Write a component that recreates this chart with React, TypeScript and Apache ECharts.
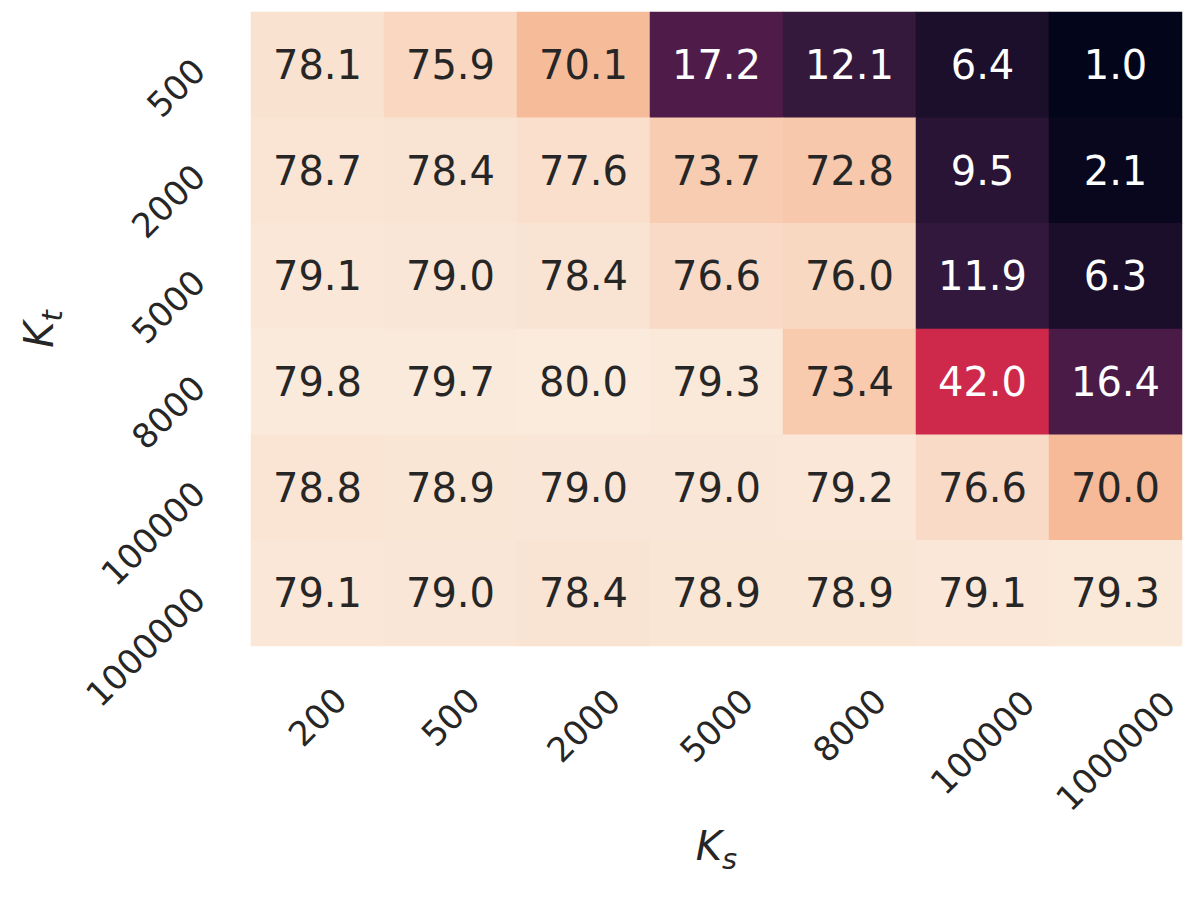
import React, { useEffect, useRef } from "react";
import * as echarts from "echarts";

const ksLabels = ["200", "500", "2000", "5000", "8000", "100000", "1000000"];
const ktLabels = ["500", "2000", "5000", "8000", "100000", "1000000"];

const row500 = [78.1, 75.9, 70.1, 17.2, 12.1, 6.4, 1.0];
const row2000 = [78.7, 78.4, 77.6, 73.7, 72.8, 9.5, 2.1];
const row5000 = [79.1, 79.0, 78.4, 76.6, 76.0, 11.9, 6.3];
const row8000 = [79.8, 79.7, 80.0, 79.3, 73.4, 42.0, 16.4];
const row100000 = [78.8, 78.9, 79.0, 79.0, 79.2, 76.6, 70.0];
const row1000000 = [79.1, 79.0, 78.4, 78.9, 78.9, 79.1, 79.3];

const rows = [row500, row2000, row5000, row8000, row100000, row1000000];

const rocket = ["#03051a", "#35193e", "#701f57", "#ad1759", "#e13342", "#f37651", "#f6b48f", "#faebdd"];

const FONT = "DejaVu Sans";
const TICK_FS = 34;

export default function App() {
  const ref = useRef<HTMLDivElement>(null);
  useEffect(() => {
    if (!ref.current) return;
    const chart = echarts.init(ref.current, null, { renderer: "svg" });
    const all = rows.flat();
    const vmin = Math.min(...all);
    const vmax = Math.max(...all);
    const data: any[] = [];
    rows.forEach((r, yi) => {
      r.forEach((v, xi) => {
        data.push({
          value: [xi, yi, v],
          label: { color: v < 50 ? "#ffffff" : "#262626" },
        });
      });
    });
    const xRich: any = {};
    for (let n = 3; n <= 7; n++) {
      const p = (n - 3) * 12;
      xRich["p" + n] = {
        fontSize: TICK_FS,
        fontFamily: FONT,
        color: "#262626",
        padding: [p, p, 0, 0],
      };
    }
    const nameRich = {
      k: { fontSize: 40, fontStyle: "italic", fontFamily: FONT, color: "#262626", lineHeight: 40, verticalAlign: "top" },
      s: { fontSize: 29, fontStyle: "italic", fontFamily: FONT, color: "#262626", lineHeight: 66, verticalAlign: "middle" },
    };
    chart.setOption({
      animation: false,
      grid: { left: 251, top: 12, width: 931, height: 634, containLabel: false, outerBoundsMode: "none" },
      visualMap: {
        show: false,
        type: "continuous",
        min: vmin,
        max: vmax,
        dimension: 2,
        inRange: { color: rocket },
      },
      xAxis: {
        type: "category",
        data: ksLabels,
        name: "{k|K}{s|s}",
        nameLocation: "middle",
        nameGap: 180,
        nameTextStyle: { rich: nameRich },
        axisLine: { show: false },
        axisTick: { show: false },
        splitLine: { show: false },
        axisLabel: {
          interval: 0,
          rotate: 45,
          align: "center",
          verticalAlign: "middle",
          margin: 71,
          formatter: (v: string) => `{p${v.length}|${v}}`,
          rich: xRich,
        },
      },
      yAxis: {
        type: "category",
        data: ktLabels,
        inverse: true,
        name: "{k|K}{s|t}",
        nameLocation: "middle",
        nameRotate: 90,
        nameGap: 166,
        nameTextStyle: { rich: nameRich },
        axisLine: { show: false },
        axisTick: { show: false },
        splitLine: { show: false },
        axisLabel: {
          interval: 0,
          rotate: 45,
          margin: 52,
          fontSize: TICK_FS,
          fontFamily: FONT,
          color: "#262626",
        },
      },
      series: [
        {
          type: "heatmap",
          data,
          label: {
            show: true,
            fontSize: 40,
            fontFamily: FONT,
            formatter: (p: any) => p.value[2].toFixed(1),
          },
          itemStyle: { borderWidth: 0 },
          emphasis: { disabled: true },
        },
      ],
    });
    return () => chart.dispose();
  }, []);
  return (
    <div
      ref={ref}
      style={{ position: "fixed", left: 0, top: 0, width: 1196, height: 897, background: "#ffffff" }}
    />
  );
}
